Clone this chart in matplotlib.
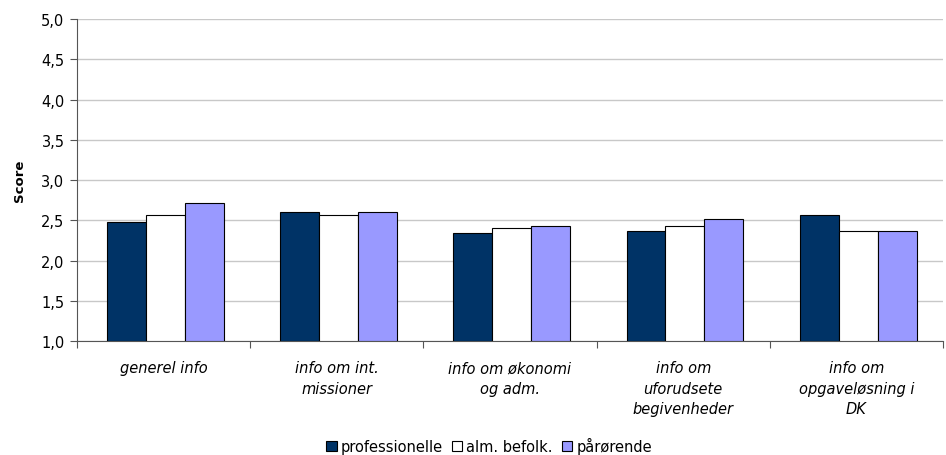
import matplotlib.pyplot as plt
import numpy as np

categories = ['generel info', 'info om int.\nmissioner', 'info om økonomi\nog adm.',
              'info om\nuforudsete\nbegivenheder', 'info om\nopgaveløsning i\nDK']
series = ['professionelle', 'alm. befolk.', 'pårørende']
professionelle = [2.48, 2.60, 2.34, 2.37, 2.57]
alm_befolk = [2.57, 2.57, 2.40, 2.43, 2.37]
paarorende = [2.71, 2.60, 2.43, 2.52, 2.37]
colors = ['#003366', '#FFFFFF', '#9999FF']

fig = plt.figure(figsize=(9.46, 4.56), dpi=100)
ax = fig.add_axes([0.0814, 0.25, 0.9155, 0.706])

x = np.arange(len(categories))
w = 0.225
for i, (vals, name) in enumerate(zip([professionelle, alm_befolk, paarorende], series)):
    ax.bar(x + (i - 1) * w + 0.01, np.array(vals) - 1.0, width=w, bottom=1.0,
           color=colors[i], edgecolor='black', linewidth=0.8, label=name, zorder=3)

ax.set_xlim(-0.5, len(categories) - 0.5)
ax.set_ylim(1.0, 5.0)
yt = np.arange(1.0, 5.01, 0.5)
ax.set_yticks(yt)
ax.set_yticklabels([f'{v:.1f}'.replace('.', ',') for v in yt], fontsize=10.5)
ax.yaxis.grid(True, color='#c8c8c8', linewidth=1, zorder=0)
ax.set_ylabel('Score', fontsize=9.5, fontweight='bold', labelpad=11)

ax.set_xticks(np.arange(-0.5, len(categories) + 0.5, 1.0))
ax.set_xticklabels([])
ax.set_xticks(x, minor=True)
ax.set_xticklabels(categories, minor=True, fontsize=10.5, style='italic', linespacing=1.45)
ax.tick_params(axis='x', which='minor', length=0, pad=14)
ax.tick_params(axis='x', which='major', length=5, direction='out', color='#555555')
ax.tick_params(axis='y', length=5, direction='out', color='#555555', pad=4)

for s in ['top', 'right']:
    ax.spines[s].set_visible(False)
for s in ['left', 'bottom']:
    ax.spines[s].set_color('#555555')

fig.legend(loc='center', bbox_to_anchor=(0.517, 0.02), ncol=3, frameon=False,
           fontsize=10.5, handlelength=0.7, handleheight=0.7, handletextpad=0.3,
           columnspacing=0.6, borderpad=0.1)

fig.savefig('out.png', dpi=100)
